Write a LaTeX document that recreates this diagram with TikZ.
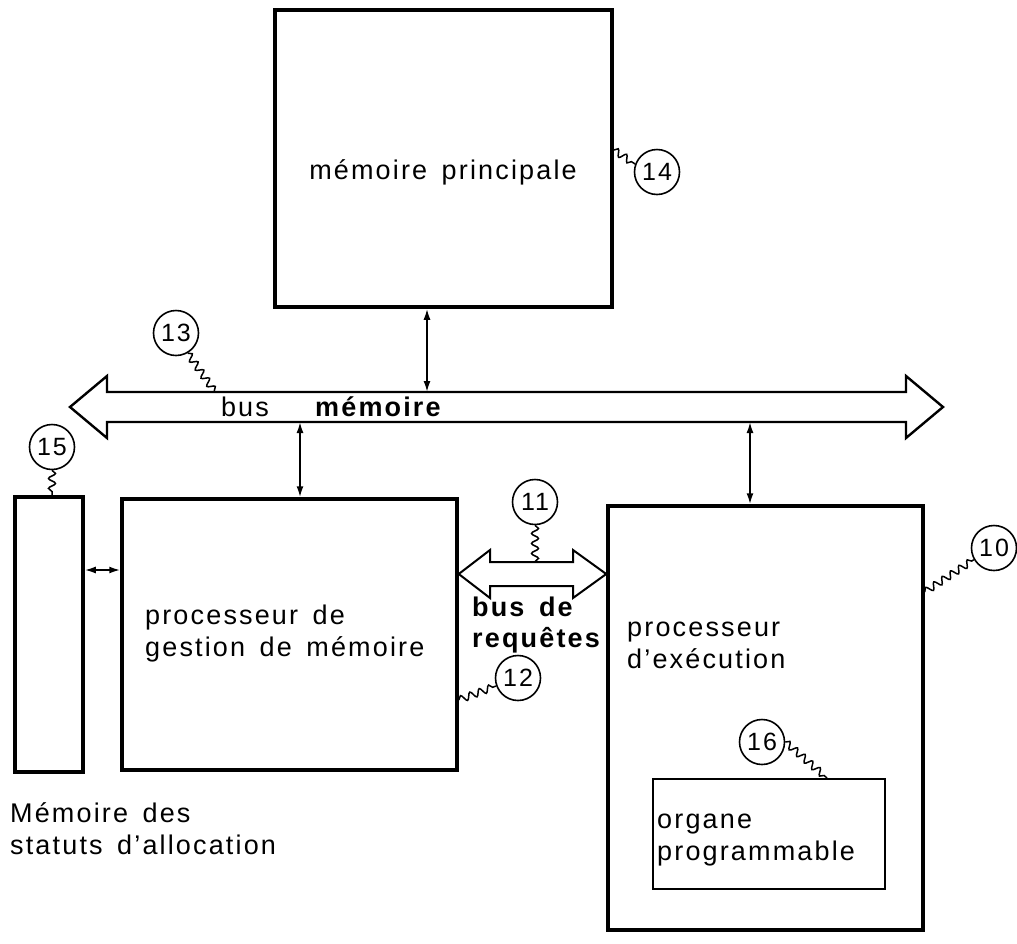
\documentclass[tikz,border=0pt]{standalone}
\usepackage{fontspec}
\setmainfont{Liberation Sans}[LetterSpace=8, WordSpace=1.5]
\usetikzlibrary{arrows.meta, decorations.pathmorphing}

\begin{document}
\begin{tikzpicture}[
    x=1pt, y=-1pt,
    unit/.style={draw, line width=3.5pt, inner sep=0},
    tag/.style={circle, draw, line width=1.6pt, minimum size=45pt, inner sep=0,
        font=\fontsize{25}{25}\selectfont},
    txt/.style={inner sep=0, align=left, font=\fontsize{27}{32}\selectfont},
    txtb/.style={txt, font=\fontsize{27}{31}\selectfont\bfseries},
    wire/.style={line width=1.8pt, >={Latex[length=11pt,width=7pt]}, <->},
    lead/.style={line width=1.5pt, decorate,
        decoration={snake, amplitude=3.5pt, segment length=10pt}},
    bus/.style={line width=2.4pt, line join=miter}
]
\useasboundingbox (0,0) rectangle (1017,943);

\node[unit, minimum width=337pt, minimum height=297pt] (mainmem) at (443.5,158.5) {};
\node[unit, minimum width=68pt, minimum height=275pt] (allocmem) at (49,634.5) {};
\node[unit, minimum width=335pt, minimum height=271pt] (mmproc) at (289.5,634.5) {};
\node[unit, minimum width=315pt, minimum height=424pt] (execproc) at (765.5,718) {};
\node[draw, line width=2pt, minimum width=232pt, minimum height=110pt] (organe) at (769,834) {};

\node[txt] (mainlbl) at (443,172) {mémoire principale};
\node[txt] (buslbl) at (245,407) {bus};
\node[txtb, anchor=west] (busmemlbl) at (315,407) {mémoire};
\node[txt, anchor=west] (mmlbl) at (145,634) {processeur de\\gestion de mémoire};
\node[txtb, anchor=west] (reqlbl) at (472,625) {bus de\\requêtes};
\node[txt, anchor=west] (execlbl) at (627,645) {processeur\\d’exécution};
\node[txt, anchor=west] (orglbl) at (657,840) {organe\\programmable};
\node[txt, anchor=west] (alloclbl) at (10,829) {Mémoire des\\statuts d’allocation};

\node[tag] (t14) at (657,172) {14};
\node[tag] (t13) at (176,333) {13};
\node[tag] (t15) at (52,447) {15};
\node[tag] (t11) at (535,502) {11};
\node[tag] (t12) at (518,678) {12};
\node[tag] (t10) at (994,548) {10};
\node[tag] (t16) at (762,742) {16};

% bus memoire
\draw[bus] (70,407) -- (107,376) -- (107,392) -- (906,392) -- (906,376) -- (943,407)
    -- (906,438) -- (906,422) -- (107,422) -- (107,438) -- cycle;
\coordinate (bmA) at (427,392);
\coordinate (bmB) at (300,422);
\coordinate (bmC) at (750,422);
\coordinate (l13) at (215,392);

% bus de requetes
\draw[bus, line width=2pt] (mmproc.east |- 0,574) -- (490,550) -- (490,562) -- (573,562)
    -- (573,550) -- (execproc.west |- 0,574) -- (573,598) -- (573,586) -- (490,586)
    -- (490,598) -- cycle;
\coordinate (l11) at (535,562);

\draw[wire] (mainmem.south -| bmA) -- (bmA);
\draw[wire] (bmB) -- (mmproc.north -| bmB);
\draw[wire] (bmC) -- (execproc.north -| bmC);
\draw[wire] (allocmem.east |- 0,570) -- (mmproc.west |- 0,570);

\draw[lead] (mainmem.east |- 0,150) -- (t14.160);
\draw[lead] (t13.-60) -- (l13);
\draw[lead] (t15.south) -- (allocmem.north -| t15);
\draw[lead] (t11.south) -- (l11);
\draw[lead] (mmproc.east |- 0,700) -- (t12.200);
\draw[lead] (execproc.east |- 0,592) -- (t10.210);
\draw[lead] (t16.east) -- (organe.north -| 827,0);

\end{tikzpicture}
\end{document}
